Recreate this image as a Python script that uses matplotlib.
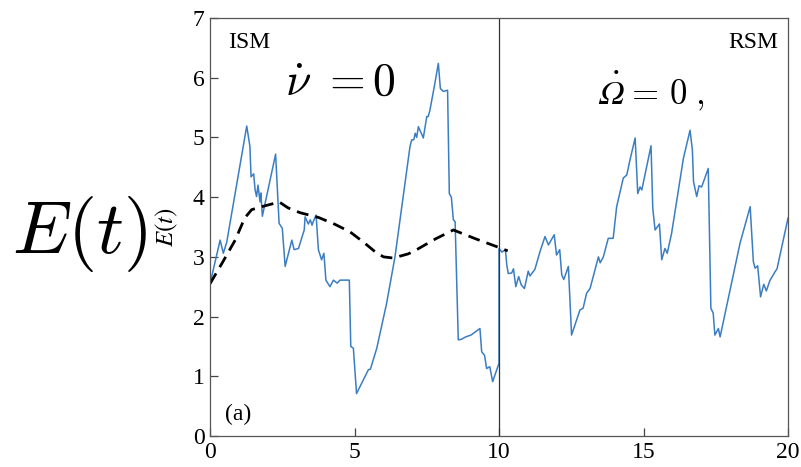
import numpy as np
import matplotlib
matplotlib.use('Agg')
import matplotlib.pyplot as plt

plt.rcParams['font.family'] = 'Liberation Serif'
plt.rcParams['mathtext.fontset'] = 'cm'

# energy trace E(t): ISM branch up to t=10, RSM branch after
t = [0.00, 0.35, 0.46, 0.58, 1.27, 1.38, 1.42, 1.51, 1.56, 1.61, 1.66, 1.73, 1.76, 1.81,
     2.27, 2.39, 2.50, 2.60, 2.83, 2.91, 3.06, 3.26, 3.29, 3.40, 3.47, 3.53, 3.58, 3.67,
     3.75, 3.86, 3.94, 4.01, 4.15, 4.27, 4.40, 4.50, 4.82, 4.87, 4.96, 5.07, 5.48, 5.55,
     5.77, 6.11, 6.40, 6.92, 6.98, 7.05, 7.10, 7.15, 7.21, 7.28, 7.33, 7.38, 7.50, 7.55,
     7.61, 7.76, 7.90, 7.97, 8.07, 8.22, 8.28, 8.35, 8.42, 8.48, 8.59, 8.70, 8.85, 9.03,
     9.34, 9.40, 9.50, 9.57, 9.68, 9.78, 10.00, 10.00, 10.10, 10.22, 10.27, 10.32, 10.44,
     10.50, 10.58, 10.68, 10.77, 10.88, 11.01, 11.07, 11.24, 11.42, 11.59, 11.71, 11.91,
     11.99, 12.10, 12.17, 12.24, 12.40, 12.51, 12.80, 12.91, 13.03, 13.15, 13.44, 13.50,
     13.61, 13.78, 13.95, 14.07, 14.30, 14.42, 14.53, 14.71, 14.80, 14.88, 14.94, 15.26,
     15.32, 15.40, 15.55, 15.63, 15.74, 15.82, 15.97, 16.38, 16.61, 16.69, 16.73, 16.84,
     16.92, 17.01, 17.24, 17.33, 17.41, 17.47, 17.59, 17.65, 18.34, 18.69, 18.80, 18.86,
     18.95, 19.05, 19.16, 19.25, 19.37, 19.55, 19.62, 20.00]
E = [2.55, 3.28, 3.06, 3.25, 5.19, 4.85, 4.34, 4.39, 4.12, 4.01, 4.20, 3.92, 4.07, 3.68,
     4.72, 3.56, 3.48, 2.84, 3.28, 3.12, 3.14, 3.45, 3.67, 3.55, 3.62, 3.53, 3.60, 3.70,
     3.12, 2.95, 3.06, 2.61, 2.50, 2.61, 2.56, 2.61, 2.61, 1.50, 1.47, 0.71, 1.11, 1.12,
     1.47, 2.22, 3.00, 4.85, 4.96, 4.96, 5.07, 5.00, 5.18, 5.10, 5.05, 4.99, 5.35, 5.35,
     5.46, 5.85, 6.24, 5.82, 5.77, 5.79, 4.06, 4.00, 3.62, 3.59, 1.61, 1.62, 1.66, 1.69,
     1.80, 1.41, 1.35, 1.13, 1.16, 0.91, 1.22, 3.14, 3.08, 3.12, 2.86, 2.72, 2.73,
     2.80, 2.50, 2.67, 2.53, 2.47, 2.76, 2.68, 2.79, 3.09, 3.34, 3.20, 3.37,
     3.03, 3.12, 2.70, 2.62, 2.84, 1.69, 2.11, 2.14, 2.39, 2.47, 3.00, 2.90,
     3.00, 3.31, 3.31, 3.84, 4.32, 4.37, 4.62, 4.99, 4.06, 4.17, 4.12, 4.86,
     3.81, 3.45, 3.55, 2.95, 3.14, 3.06, 3.39, 4.65, 5.12, 4.79, 4.26, 4.01,
     4.19, 4.17, 4.48, 2.14, 2.06, 1.69, 1.80, 1.66, 3.23, 3.84, 2.92, 2.81,
     2.85, 2.33, 2.54, 2.43, 2.60, 2.75, 2.80, 3.65]

# averaged curve (dashed)
t_avg = [0.00, 0.46, 0.87, 1.20, 1.44, 1.79, 2.10, 2.39, 2.70, 3.11, 3.75, 4.30, 4.84,
         5.30, 5.70, 6.00, 6.34, 6.86, 7.15, 7.80, 8.42, 9.20, 9.98, 10.30]
E_avg = [2.55, 2.93, 3.28, 3.65, 3.79, 3.84, 3.88, 3.92, 3.82, 3.74, 3.66, 3.55, 3.42,
         3.25, 3.09, 3.00, 2.98, 3.05, 3.12, 3.30, 3.45, 3.30, 3.16, 3.10]

xticks = [0, 5, 10, 15, 20]
yticks = [0, 1, 2, 3, 4, 5, 6, 7]

fig = plt.figure(figsize=(8.01, 4.67), dpi=100)
ax = fig.add_axes([0.2622, 0.0664, 0.7216, 0.8951])

ax.plot(t, E, color='#3b7dc3', lw=1.1)
ax.plot(t_avg, E_avg, color='black', lw=2.0, ls=(0, (4.3, 2.6)))
ax.axvline(10, color='#333333', lw=0.9)

ax.set_xlim(0, 20)
ax.set_ylim(0, 7)
ax.set_xticks(xticks)
ax.set_yticks(yticks)
ax.tick_params(direction='in', length=6, width=0.9, color='#444444',
               labelsize=17, pad=4)
for s in ax.spines.values():
    s.set_color('#555555')
    s.set_linewidth(0.9)

ax.text(0.62, 6.50, 'ISM', fontsize=17, va='baseline', ha='left')
ax.text(19.65, 6.50, 'RSM', fontsize=17, va='baseline', ha='right')
ax.text(4.52, 5.71, r'$\dot{\nu}\ {=}0$', fontsize=33, va='baseline', ha='center')

# Omega-dot = 0 : slanted capital Omega with a dot, then the cm part
ax.text(13.43, 5.56, '\u03a9', fontsize=24, family='STIXGeneral', fontstyle='italic',
        va='baseline', ha='left')
ax.text(14.05, 6.06, '.', fontsize=24, va='baseline', ha='center')
ax.text(14.36, 5.56, r'${=}\,0\;,$', fontsize=25, va='baseline', ha='left')

ax.text(0.52, 0.27, '(a)', fontsize=17, va='baseline', ha='left')

fig.text(0.2085, 0.514, r'$E(t)$', fontsize=18, rotation=90, ha='center', va='center',
         math_fontfamily='stix')
fig.text(0.10, 0.50, r'$E(t)$', fontsize=54, ha='center', va='center')

fig.savefig('out.png', dpi=100)
